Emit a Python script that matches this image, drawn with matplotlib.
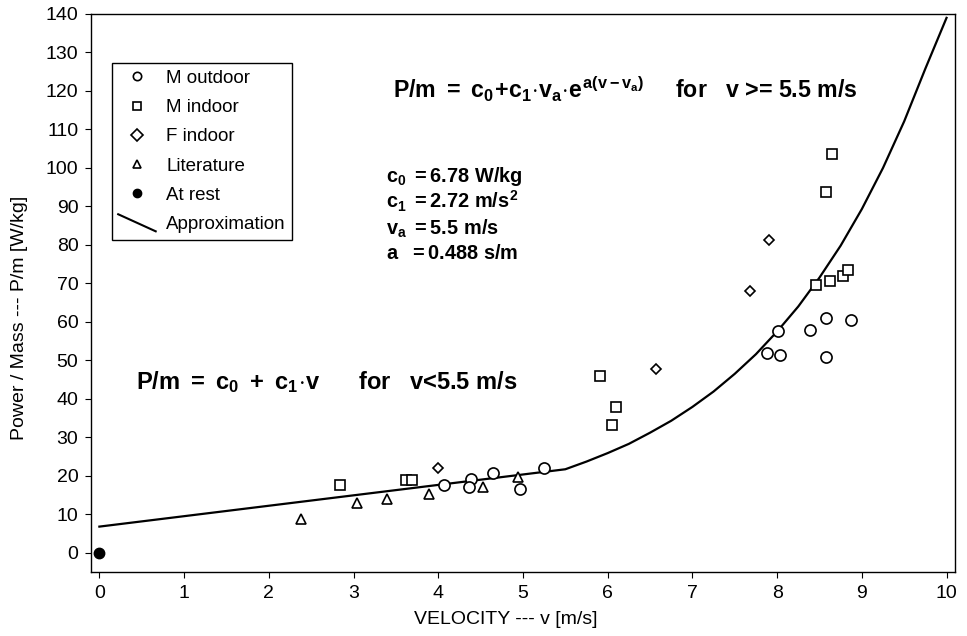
import matplotlib
matplotlib.use("Agg")
import matplotlib.pyplot as plt
from matplotlib.lines import Line2D
from matplotlib.legend_handler import HandlerBase

plt.rcParams['font.family'] = ['Liberation Sans', 'DejaVu Sans']
plt.rcParams['mathtext.fontset'] = 'custom'
plt.rcParams['mathtext.rm'] = 'Liberation Sans:bold'
plt.rcParams['mathtext.it'] = 'Liberation Sans:bold'
plt.rcParams['mathtext.bf'] = 'Liberation Sans:bold'

# ---- data ----
m_out_v = [4.07, 4.39, 4.36, 4.65, 4.96, 5.25, 8.01, 7.88, 8.03, 8.39, 8.58, 8.87, 8.58]
m_out_p = [17.7, 19.3, 17.2, 20.6, 16.7, 21.9, 57.6, 51.9, 51.4, 57.9, 61.0, 60.5, 50.8]

m_in_v = [2.84, 3.62, 3.69, 5.91, 6.10, 6.05, 8.65, 8.58, 8.46, 8.63, 8.78, 8.84]
m_in_p = [17.5, 18.8, 18.8, 45.9, 37.8, 33.1, 103.5, 93.8, 69.6, 70.6, 71.9, 73.5]

f_in_v = [4.00, 6.57, 7.91, 7.68]
f_in_p = [21.9, 47.7, 81.3, 68.0]

lit_v = [2.38, 3.04, 3.40, 3.89, 4.53, 4.94]
lit_p = [8.9, 13.0, 14.1, 15.4, 17.2, 19.8]

rest_v = [0.0]
rest_p = [0.0]

approx_v = [0.0, 5.5, 5.75, 6.0, 6.25, 6.5, 6.75, 7.0, 7.25, 7.5, 7.75, 8.0,
            8.25, 8.5, 8.75, 9.0, 9.25, 9.5, 9.75, 10.0]
approx_p = [6.8, 21.7, 23.7, 25.9, 28.3, 31.2, 34.3, 37.9, 41.9, 46.5, 51.6, 57.5,
            64.0, 71.5, 79.8, 89.3, 100.0, 112.1, 125.8, 139.0]

x_ticks = list(range(0, 11))
y_ticks = list(range(0, 141, 10))


class DiagonalHandler(HandlerBase):
    def create_artists(self, legend, orig_handle, xdescent, ydescent, width, height, fontsize, trans):
        ln = Line2D([-xdescent, -xdescent + width], [-ydescent + height * 1.15, -ydescent - height * 0.15],
                    color='black', lw=1.5, transform=trans)
        return [ln]


fig = plt.figure(figsize=(9.67, 6.36), dpi=100)
ax = fig.add_axes([0.094, 0.1006, 0.8936, 0.8774])

ms = 8
mew = 1.2
h_out, = ax.plot(m_out_v, m_out_p, 'o', mfc='white', mec='black', ms=ms, mew=mew, label='M outdoor', zorder=3)
h_in, = ax.plot(m_in_v, m_in_p, 's', mfc='white', mec='black', ms=7.5, mew=mew, label='M indoor', zorder=3)
h_f, = ax.plot(f_in_v, f_in_p, 'D', mfc='white', mec='black', ms=5.5, mew=mew, label='F indoor', zorder=3)
h_lit, = ax.plot(lit_v, lit_p, '^', mfc='white', mec='black', ms=7, mew=mew, label='Literature', zorder=3)
h_rest, = ax.plot(rest_v, rest_p, 'o', mfc='black', mec='black', ms=7.5, label='At rest', zorder=3)
h_ap, = ax.plot(approx_v, approx_p, '-', color='black', lw=1.6, label='Approximation', zorder=2)

ax.set_xlim(-0.1, 10.1)
ax.set_ylim(-5, 140)
ax.set_xticks(x_ticks)
ax.set_yticks(y_ticks)
ax.tick_params(axis='both', labelsize=14, direction='out', length=4, width=0.8)
ax.tick_params(axis='x', pad=5)
ax.tick_params(axis='y', pad=5)
for s in ax.spines.values():
    s.set_linewidth(1.0)

fig.text(506 / 967, 1 - 619 / 636, 'VELOCITY --- v [m/s]', fontsize=14, ha='center', va='center')
fig.text(20 / 967, 1 - 318 / 636, 'Power / Mass --- P/m [W/kg]', fontsize=14, ha='center', va='center',
         rotation=90)

leg = ax.legend(handles=[h_out, h_in, h_f, h_lit, h_rest, h_ap], loc='upper left',
                bbox_to_anchor=(0.024, 0.912), borderaxespad=0, fontsize=13.5,
                fancybox=False, edgecolor='black', framealpha=1, labelspacing=0.65,
                handlelength=2.0, handletextpad=0.55, borderpad=0.35,
                handler_map={h_ap: DiagonalHandler()})
leg.get_frame().set_linewidth(1.0)
for h in leg.legend_handles[:5]:
    h.set_markersize(6)

ax.text(3.47, 120.5, r'$P/m\ =\ c_0\!+\!c_1\!\cdot\! v_a\!\cdot\! e^{a(v-v_a)}$' + '     for   v >= 5.5 m/s',
        fontsize=16.7, fontweight='bold', va='center', ha='left')
ax.text(0.43, 44.3, r'$P/m\ =\ c_0\ +\ c_1\!\cdot\! v$' + '      for   v<5.5 m/s',
        fontsize=17, fontweight='bold', va='center', ha='left')

params = [r'$c_0\ = 6.78\ W/kg$', r'$c_1\ = 2.72\ m/s^2$', r'$v_a\ = 5.5\ m/s$', r'$a\ \ = 0.488\ s/m$']
param_y = [97.7, 91.2, 84.2, 77.7]
for t, yy in zip(params, param_y):
    ax.text(3.38, yy, t, fontsize=14.3, va='center', ha='left')

fig.savefig('out.png', dpi=100)
